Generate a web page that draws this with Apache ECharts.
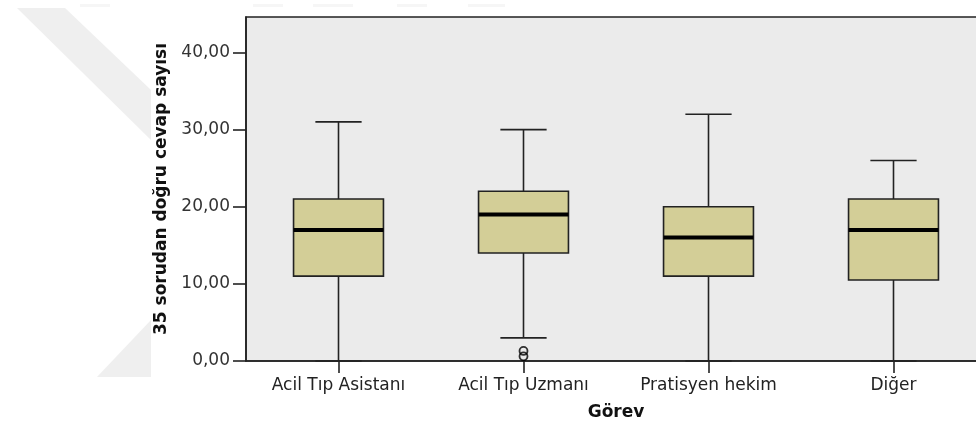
<!DOCTYPE html>
<html>
<head>
<meta charset="utf-8">
<script src="https://cdn.jsdelivr.net/npm/echarts@6/dist/echarts.min.js"></script>
<style>
html,body{margin:0;padding:0;background:#fff;overflow:hidden;width:976px;height:428px;}
#chart{width:986px;height:428px;}
</style>
</head>
<body>
<div id="chart"></div>
<script>
// ---- data ----
const categories = ['Acil Tıp Asistanı', 'Acil Tıp Uzmanı', 'Pratisyen hekim', 'Diğer'];
const lowWhisker  = [0, 3, 0, 0];
const q1Values    = [11, 14, 11, 10.5];
const medians     = [17, 19, 16, 17];
const q3Values    = [21, 22, 20, 21];
const highWhisker = [31, 30, 32, 26];
const outlierCategory = [1, 1];
const outlierValues   = [1.3, 0.6];
const yTickValues = [0, 10, 20, 30, 40];

const boxData = categories.map((c, i) => [i, lowWhisker[i], q1Values[i], medians[i], q3Values[i], highWhisker[i]]);
const outlierData = outlierValues.map((v, i) => [outlierCategory[i], v]);

const FONT = '"DejaVu Sans", "Liberation Sans", Arial, sans-serif';
const INK = '#222';

function renderBox(params, api) {
  const idx = api.value(0);
  const low = api.coord([idx, api.value(1)]);
  const q1 = api.coord([idx, api.value(2)]);
  const med = api.coord([idx, api.value(3)]);
  const q3 = api.coord([idx, api.value(4)]);
  const high = api.coord([idx, api.value(5)]);
  const band = api.size([1, 0])[0];
  const boxW = band * 0.486;
  const capW = band * 0.25;
  const x = low[0];
  const lineStyle = { stroke: INK, lineWidth: 1.6, fill: null };
  return {
    type: 'group',
    children: [
      { type: 'line', shape: { x1: x, y1: high[1], x2: x, y2: q3[1] }, style: lineStyle },
      { type: 'line', shape: { x1: x, y1: q1[1], x2: x, y2: low[1] }, style: lineStyle },
      { type: 'line', shape: { x1: x - capW / 2, y1: high[1], x2: x + capW / 2, y2: high[1] }, style: lineStyle },
      { type: 'line', shape: { x1: x - capW / 2, y1: low[1], x2: x + capW / 2, y2: low[1] }, style: lineStyle },
      { type: 'rect', shape: { x: x - boxW / 2, y: q3[1], width: boxW, height: q1[1] - q3[1] },
        style: { fill: '#d3ce97', stroke: INK, lineWidth: 1.6 } },
      { type: 'line', shape: { x1: x - boxW / 2, y1: med[1], x2: x + boxW / 2, y2: med[1] },
        style: { stroke: '#000', lineWidth: 4 } }
    ]
  };
}

const chart = echarts.init(document.getElementById('chart'), null, { renderer: 'canvas' });
chart.setOption({
  animation: false,
  backgroundColor: '#fff',
  graphic: [
    { type: 'polygon', z: -10, silent: true, shape: { points: [[17, 8], [65, 8], [151, 90], [151, 140]] }, style: { fill: '#efefef' } },
    { type: 'polygon', z: -10, silent: true, shape: { points: [[151, 320], [151, 377], [97, 377]] }, style: { fill: '#efefef' } },
    { type: 'rect', z: -10, silent: true, shape: { x: 80, y: 4, width: 30, height: 3 }, style: { fill: '#f6f6f6' } },
    { type: 'rect', z: -10, silent: true, shape: { x: 253, y: 4, width: 30, height: 3 }, style: { fill: '#f6f6f6' } },
    { type: 'rect', z: -10, silent: true, shape: { x: 313, y: 4, width: 40, height: 3 }, style: { fill: '#f6f6f6' } },
    { type: 'rect', z: -10, silent: true, shape: { x: 397, y: 4, width: 30, height: 3 }, style: { fill: '#f6f6f6' } },
    { type: 'rect', z: -10, silent: true, shape: { x: 468, y: 4, width: 37, height: 3 }, style: { fill: '#f6f6f6' } }
  ],
  grid: {
    left: 246, top: 17, right: 0, height: 344,
    show: true, backgroundColor: '#ebebeb', borderColor: INK, borderWidth: 1.6
  },
  xAxis: {
    type: 'category',
    data: categories,
    boundaryGap: true,
    name: 'Görev',
    nameLocation: 'middle',
    nameGap: 43,
    nameTextStyle: { fontFamily: FONT, fontSize: 17, fontWeight: 'bold', color: '#111' },
    axisLine: { lineStyle: { color: INK, width: 1.6 } },
    axisTick: { show: true, alignWithLabel: true, length: 12, lineStyle: { color: INK, width: 1.6 } },
    axisLabel: { fontFamily: FONT, fontSize: 17, color: '#222', margin: 16 },
    splitLine: { show: false }
  },
  yAxis: {
    type: 'value',
    min: 0,
    max: 44.6,
    interval: 10,
    name: '35 sorudan doğru cevap sayısı',
    nameLocation: 'middle',
    nameGap: 70,
    nameTextStyle: { fontFamily: FONT, fontSize: 17, fontWeight: 'bold', color: '#111' },
    axisLine: { show: true, lineStyle: { color: INK, width: 1.6 } },
    axisTick: { show: true, length: 13, customValues: yTickValues, lineStyle: { color: INK, width: 1.6 } },
    axisLabel: {
      fontFamily: FONT, fontSize: 17, color: '#333', margin: 16,
      customValues: yTickValues,
      formatter: v => (v % 10 === 0 ? v.toFixed(2).replace('.', ',') : '')
    },
    splitLine: { show: false }
  },
  series: [
    {
      type: 'custom',
      renderItem: renderBox,
      data: boxData,
      encode: { x: 0, y: [1, 2, 3, 4, 5] },
      z: 3
    },
    {
      type: 'scatter',
      data: outlierData,
      symbol: 'circle',
      symbolSize: 8,
      itemStyle: { color: 'rgba(0,0,0,0)', borderColor: '#000', borderWidth: 1.8 },
      z: 4
    }
  ]
});
</script>
</body>
</html>
